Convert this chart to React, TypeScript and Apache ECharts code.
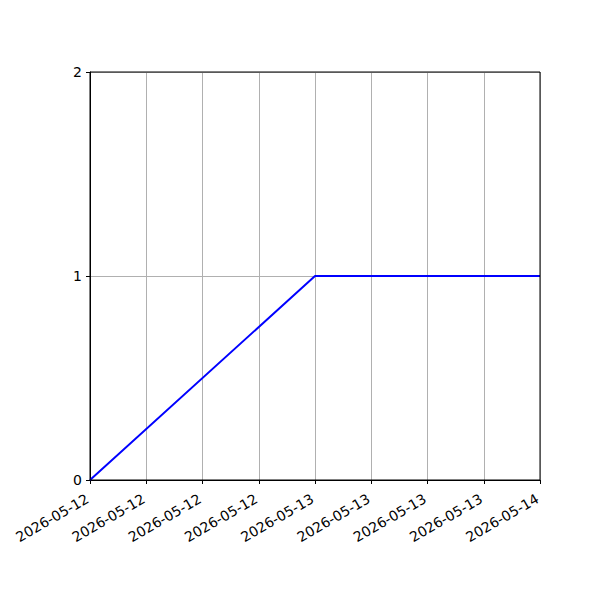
import React, { useEffect, useRef } from "react";
import * as echarts from "echarts";

const HOUR = 3600000;
const xStart = Date.UTC(2026, 4, 12, 0, 0, 0);
const xEnd = Date.UTC(2026, 4, 14, 0, 0, 0);
const pointTimes = [Date.UTC(2026, 4, 12), Date.UTC(2026, 4, 13), Date.UTC(2026, 4, 14)];
const pointValues = [0, 1, 1];
const yTicks = [0, 1, 2];

function fmt(v: number): string {
  const d = new Date(v);
  const p = (n: number) => String(n).padStart(2, "0");
  return `${d.getUTCFullYear()}-${p(d.getUTCMonth() + 1)}-${p(d.getUTCDate())}`;
}

export default function App() {
  const ref = useRef<HTMLDivElement>(null);
  useEffect(() => {
    document.body.style.margin = "0";
    const chart = echarts.init(ref.current!, null, { renderer: "svg" });
    const font = "DejaVu Sans";
    chart.setOption({
      animation: false,
      backgroundColor: "#ffffff",
      grid: {
        left: 90,
        right: 60,
        top: 72,
        bottom: 120,
        show: false,
        containLabel: false,
      },
      graphic: [
        {
          type: "rect",
          shape: { x: 90, y: 72, width: 450, height: 408 },
          style: { fill: "none", stroke: "#000", lineWidth: 1 },
          z: 100,
          silent: true,
        },
      ],
      xAxis: {
        type: "value",
        min: xStart,
        max: xEnd,
        interval: 6 * HOUR,
        axisLine: { show: true, lineStyle: { color: "#000", width: 1 } },
        axisTick: { show: true, length: 4, lineStyle: { color: "#000" } },
        splitLine: { show: true, lineStyle: { color: "#b0b0b0", width: 1 } },
        axisLabel: {
          rotate: 30,
          margin: 16,
          padding: [0, 3, 0, 0],
          color: "#000",
          fontFamily: font,
          fontSize: 14,
          formatter: (v: number) => fmt(v),
          showMinLabel: true,
          showMaxLabel: true,
        },
      },
      yAxis: {
        type: "value",
        min: yTicks[0],
        max: yTicks[yTicks.length - 1],
        interval: 1,
        axisLine: { show: true, lineStyle: { color: "#000", width: 1 } },
        axisTick: { show: true, length: 4, lineStyle: { color: "#000" } },
        splitLine: { show: true, lineStyle: { color: "#b0b0b0", width: 1 } },
        axisLabel: { color: "#000", fontFamily: font, fontSize: 14, margin: 8 },
      },
      series: [
        {
          type: "line",
          data: pointTimes.map((t, i) => [t, pointValues[i]]),
          showSymbol: false,
          symbol: "none",
          lineStyle: { color: "#0000ff", width: 2 },
          clip: false,
          z: 50,
        },
      ],
    });
    return () => chart.dispose();
  }, []);
  return <div ref={ref} style={{ width: 600, height: 600 }} />;
}
